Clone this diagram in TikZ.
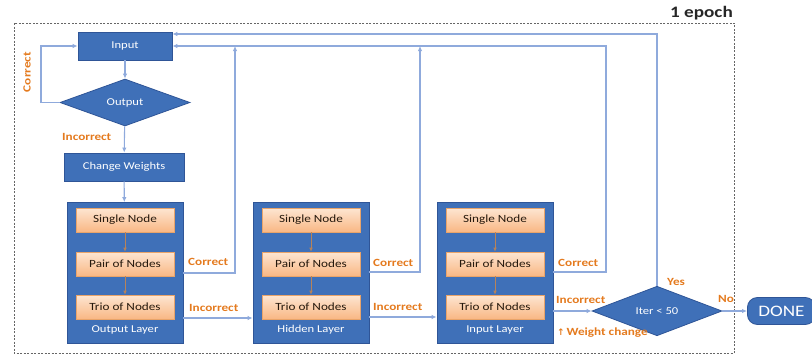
\documentclass[tikz,border=0pt]{standalone}
\usepackage{fontspec}
\setmainfont{Carlito}[FakeStretch=1.2]
\newfontfamily\symfont{DejaVu Sans}
\usetikzlibrary{shapes.geometric,arrows.meta,calc}
\definecolor{bfill}{HTML}{3F70B8}
\definecolor{bdraw}{HTML}{2F5597}
\definecolor{otop}{HTML}{FDE6D2}
\definecolor{obot}{HTML}{F9B784}
\definecolor{odraw}{HTML}{E9A46A}
\definecolor{lab}{HTML}{E47A1E}
\definecolor{conn}{HTML}{8FAADC}
\definecolor{inarr}{HTML}{B7835A}
\tikzset{
  bluebox/.style={draw=bdraw,fill=bfill,line width=0.8pt,text=white,font=\fontsize{10.5}{11}\selectfont,inner sep=0pt},
  layerbox/.style={draw=bdraw,fill=bfill,line width=0.8pt,minimum width=116pt,minimum height=141pt,inner sep=0pt},
  nodebox/.style={draw=odraw,top color=otop,bottom color=obot,line width=0.6pt,minimum width=98pt,minimum height=24pt,inner sep=0pt,text=black!80!brown,font=\fontsize{11}{12}\selectfont},
  decide/.style={diamond,draw=bdraw,fill=bfill,line width=0.8pt,inner sep=0pt,text=white,font=\fontsize{10.5}{11}\selectfont},
  lbl/.style={text=lab,font=\bfseries\fontsize{11}{12}\selectfont,inner sep=0pt},
  layerlbl/.style={text=white,font=\fontsize{10.5}{11}\selectfont,inner sep=0pt},
  flow/.style={draw=conn,line width=1.1pt,-{Latex[length=5pt,width=4.5pt]}},
  inner/.style={draw=inarr,line width=0.7pt,-{Latex[length=4pt,width=3.5pt]}}
}
\begin{document}
\begin{tikzpicture}[x=1pt,y=-1pt]
\useasboundingbox (0,0) rectangle (812,356);
% epoch frame
\draw[gray!80!black,line width=0.9pt,dash pattern=on 2pt off 1.5pt] (14,23) rectangle (734,353);
\node[anchor=south east,inner sep=0pt,font=\bfseries\fontsize{16}{17}\selectfont,text=black!85] (epoch) at (733,20) {1 epoch};

% top column
\node[bluebox,minimum width=94pt,minimum height=28pt] (inp) at (125,46) {Input};
\node[decide,minimum width=130pt,minimum height=47pt] (out) at (125,102.5) {Output};
\node[bluebox,minimum width=120pt,minimum height=28pt] (cw) at (124,167) {Change Weights};

% layers
\foreach \n/\x/\t in {ol/125/Output Layer,hl/311/Hidden Layer,il/495/Input Layer}{
  \node[layerbox] (\n) at (\x,273) {};
  \node[nodebox] (\n s) at (\x,220) {Single Node};
  \node[nodebox] (\n p) at (\x,264) {Pair of Nodes};
  \node[nodebox] (\n t) at (\x,307) {Trio of Nodes};
  \node[layerlbl] (\n l) at (\x,330) {\t};
  \draw[inner] (\n s) -- (\n p);
  \draw[inner] (\n p) -- (\n t);
}

% decision and done
\node[decide,minimum width=130pt,minimum height=42pt] (it) at (657,311) {Iter {\textless} 50};
\node[draw=bdraw,fill=bfill,line width=0.8pt,rounded corners=10pt,minimum width=68pt,minimum height=27pt,inner sep=0pt,text=white,font=\fontsize{16}{17}\selectfont,anchor=west] (done) at (747,311) {DONE};

% coordinates
\coordinate (inA) at ($(inp.east)+(0,-12)$);
\coordinate (c1) at (235,46);
\coordinate (c2) at (420,46);

% connectors
\draw[flow] (inp) -- (out);
\draw[flow] (out) -- (cw);
\draw[flow] (cw) -- (ol);
\draw[flow] (out.west) -- (41,102.5) |- (inp.west);
\draw[flow] (ol.east |- 0,273) -| (c1);
\draw[flow] (hl.east |- 0,272) -| (c2);
\draw[flow] (il.east |- 0,272) -| (606,46) -- (inp.east);
\draw[flow] (it.north) |- (inA);
\draw[flow] (ol.east |- 0,318) -- (hl.west |- 0,318);
\draw[flow] (hl.east |- 0,317) -- (il.west |- 0,317);
\draw[flow] (il.east |- 0,311) -- (it.west);
\draw[flow] (it.east) -- (done.west);

% labels
\node[lbl,rotate=90] (lc0) at (27,72) {Correct};
\node[lbl,anchor=west] (li0) at (62,137) {Incorrect};
\node[lbl,anchor=west] (lc1) at (188,262) {Correct};
\node[lbl,anchor=west] (lc2) at (373,263) {Correct};
\node[lbl,anchor=west] (lc3) at (558,263) {Correct};
\node[lbl,anchor=west] (li1) at (189,308) {Incorrect};
\node[lbl,anchor=west] (li2) at (373,307) {Incorrect};
\node[lbl,anchor=west] (li3) at (556,300) {Incorrect};
\node[lbl,anchor=west] (yes) at (667,282) {Yes};
\node[lbl,anchor=west] (no) at (718,299) {No};
\node[lbl,anchor=west] (wc) at (557,333) {{\symfont\bfseries\fontsize{9}{10}\selectfont ↑}\,Weight change};
\end{tikzpicture}
\end{document}
